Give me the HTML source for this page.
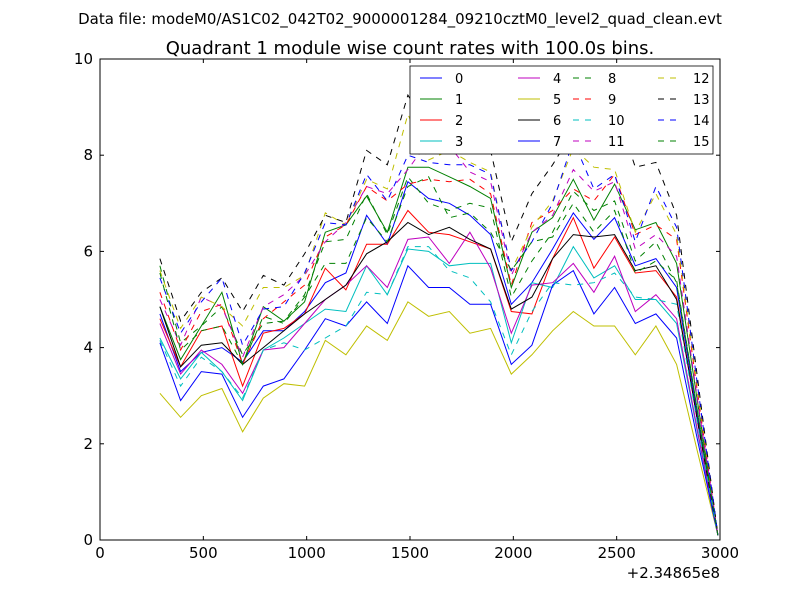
<!DOCTYPE html>
<html><head><meta charset="utf-8"><style>
body{margin:0;background:#fff;font-family:"Liberation Sans","DejaVu Sans",sans-serif}
svg text{font-family:"DejaVu Sans","Liberation Sans",sans-serif}
</style></head><body>
<svg id="chart" width="800" height="600" xmlns="http://www.w3.org/2000/svg">
<rect width="800" height="600" fill="#fff"/>
<text x="400" y="24" text-anchor="middle" font-size="15">Data file: modeM0/AS1C02_042T02_9000001284_09210cztM0_level2_quad_clean.evt</text>
<text x="410" y="54" text-anchor="middle" font-size="18">Quadrant 1 module wise count rates with 100.0s bins.</text>
<g id="series"></g>
<rect x="100" y="59" width="620" height="481" fill="none" stroke="#000" stroke-width="1"/>
<g id="ticks"></g>
<g id="legend"></g>
<text x="720" y="578" text-anchor="end" font-size="15">+2.34865e8</text>
</svg>
<script>
const xStart=290, xStep=100, nPts=28;
const xTicks=[0,500,1000,1500,2000,2500,3000];
const yTicks=[0,2,4,6,8,10];
const colors=['#0000ff','#008000','#ff0000','#00bfbf','#bf00bf','#bfbf00','#000000','#0000ff','#008000','#ff0000','#00bfbf','#bf00bf','#bfbf00','#000000','#0000ff','#008000'];
const s0=[4.7,3.5,3.9,4.0,3.7,4.35,4.35,4.75,5.35,5.55,6.75,6.15,7.45,7.1,7.0,6.75,6.35,4.9,5.35,6.05,6.8,6.25,6.7,5.7,5.85,5.25,2.6,0.1];
const s1=[4.85,3.75,4.45,5.15,3.65,4.85,4.55,4.95,6.4,6.55,7.15,6.4,7.75,7.75,7.55,7.35,7.1,5.25,6.4,6.7,7.5,6.65,7.4,6.45,6.6,5.75,2.9,0.1];
const s2=[4.6,3.6,4.35,4.45,3.2,4.3,4.4,4.7,5.65,5.2,6.15,6.15,6.85,6.4,6.35,6.2,6.05,4.75,4.7,5.85,6.7,5.65,6.3,5.55,5.6,5.05,2.5,0.1];
const s3=[4.2,3.35,3.9,3.5,2.9,3.95,4.2,4.5,4.8,4.75,5.7,5.1,6.05,6.0,5.7,5.75,5.75,4.1,5.35,5.25,6.1,5.45,5.7,5.0,5.0,4.5,2.25,0.1];
const s4=[4.5,3.45,3.95,3.65,3.05,3.95,4.0,4.5,5.0,5.3,5.7,5.25,6.25,6.3,5.75,6.4,5.65,4.3,5.3,5.35,5.75,5.15,5.9,4.75,5.1,4.6,2.3,0.1];
const s5=[3.05,2.55,3.0,3.15,2.25,2.95,3.25,3.2,4.15,3.85,4.45,4.15,4.95,4.65,4.75,4.3,4.4,3.45,3.85,4.35,4.75,4.45,4.45,3.85,4.45,3.65,1.85,0.1];
const s6=[4.85,3.6,4.05,4.1,3.65,4.0,4.35,4.7,5.0,5.3,5.95,6.2,6.6,6.35,6.5,6.25,6.05,4.8,5.05,5.85,6.35,6.3,6.35,5.6,5.7,5.0,2.5,0.1];
const s7=[4.1,2.9,3.5,3.45,2.55,3.2,3.35,3.95,4.6,4.45,4.95,4.5,5.7,5.25,5.25,4.9,4.9,3.65,4.05,5.3,5.6,4.7,5.25,4.5,4.7,4.2,2.1,0.1];
const s8=[5.7,4.1,4.45,4.85,3.85,4.5,4.55,5.1,6.2,6.25,7.2,6.35,7.55,7.0,6.85,7.0,6.9,5.05,5.8,6.4,7.25,6.85,7.05,5.8,6.2,5.35,2.7,0.1];
const s9=[5.15,3.95,4.75,4.9,3.65,4.6,4.95,5.3,6.3,6.55,7.35,7.05,7.4,7.5,7.45,7.5,7.2,5.3,6.6,6.85,7.3,7.05,7.6,6.35,6.55,6.25,3.1,0.1];
const s10=[4.15,3.2,3.8,3.5,2.95,3.95,4.1,3.95,4.2,4.45,5.15,5.1,6.1,6.1,5.6,5.45,4.95,3.85,4.75,5.35,5.3,5.35,5.55,5.05,5.0,4.9,2.45,0.1];
const s11=[5.0,4.05,5.05,4.85,3.8,4.85,5.1,5.5,6.2,6.6,7.35,7.2,7.7,8.3,8.2,7.65,7.45,5.5,6.4,6.75,7.7,7.25,7.45,6.05,6.35,5.9,2.95,0.1];
const s12=[5.6,4.4,5.05,4.85,4.45,5.25,5.25,5.5,6.8,6.55,7.5,7.3,8.85,7.9,8.1,7.85,7.65,5.6,6.5,7.05,8.15,7.75,7.7,6.4,7.2,6.35,3.2,0.1];
const s13=[5.85,4.55,5.15,5.45,4.75,5.5,5.3,5.95,6.75,6.6,8.1,7.8,9.25,8.55,8.55,8.9,8.1,6.2,7.2,7.8,8.5,8.45,9.05,7.75,7.85,6.75,3.4,0.1];
const s14=[5.45,4.3,4.95,5.45,4.05,4.8,4.85,5.55,6.6,6.55,7.6,7.05,8.0,7.85,7.8,7.8,7.6,5.6,6.2,7.0,8.3,7.3,7.6,6.2,7.35,6.5,3.25,0.1];
const s15=[5.55,3.95,4.35,4.45,3.65,4.65,4.5,5.05,5.75,5.75,6.7,6.2,7.35,7.55,6.7,6.8,6.4,5.6,6.2,6.3,7.0,6.4,6.85,5.55,5.8,5.4,2.7,0.1];
const series=[s0,s1,s2,s3,s4,s5,s6,s7,s8,s9,s10,s11,s12,s13,s14,s15];
const NS='http://www.w3.org/2000/svg';
const X=v=>100+v*620/3000, Y=v=>540-v*48.1;
const g=document.getElementById('series');
series.forEach((vals,i)=>{
  const p=document.createElementNS(NS,'polyline');
  
  
  p.setAttribute('points',vals.map((v,k)=>X(xStart+k*xStep).toFixed(1)+','+Y(v).toFixed(1)).join(' '));
  p.setAttribute('fill','none');p.setAttribute('stroke',colors[i]);p.setAttribute('stroke-width','1');
  if(i>=8)p.setAttribute('stroke-dasharray','6,6');
  g.appendChild(p);
});
const t=document.getElementById('ticks');
xTicks.forEach(v=>{
  const x=X(v);
  t.insertAdjacentHTML('beforeend',`<line x1="${x}" y1="540" x2="${x}" y2="536" stroke="#000"/><line x1="${x}" y1="59" x2="${x}" y2="63" stroke="#000"/>`);
  const tx=document.createElementNS(NS,'text');
  
  
  tx.setAttribute('x',x);tx.setAttribute('y',558);tx.setAttribute('text-anchor','middle');tx.setAttribute('font-size','15');
  tx.textContent=v;t.appendChild(tx);
});
yTicks.forEach(v=>{
  const y=Y(v);
  t.insertAdjacentHTML('beforeend',`<line x1="100" y1="${y}" x2="104" y2="${y}" stroke="#000"/><line x1="720" y1="${y}" x2="716" y2="${y}" stroke="#000"/>`);
  const tx=document.createElementNS(NS,'text');
  
  
  tx.setAttribute('x',93);tx.setAttribute('y',y+5);tx.setAttribute('text-anchor','end');tx.setAttribute('font-size','15');
  tx.textContent=v;t.appendChild(tx);
});
const L=document.getElementById('legend');
L.insertAdjacentHTML('beforeend','<rect x="410" y="66" width="303" height="88" fill="#fff" stroke="#000" stroke-width="0.8"/>');
const colX=[420,518,573,658];
series.forEach((vals,i)=>{
  const c=Math.floor(i/4), r=i%4, x=colX[c], y=78+r*21;
  const e=document.createElementNS(NS,'g');
  
  
  e.innerHTML=`<line x1="${x}" y1="${y}" x2="${x+22}" y2="${y}" stroke="${colors[i]}" ${i>=8?'stroke-dasharray="6,6"':''}/><text x="${x+35}" y="${y+5}" font-size="13">${i}</text>`;
  L.appendChild(e);
});
</script>
</body></html>
